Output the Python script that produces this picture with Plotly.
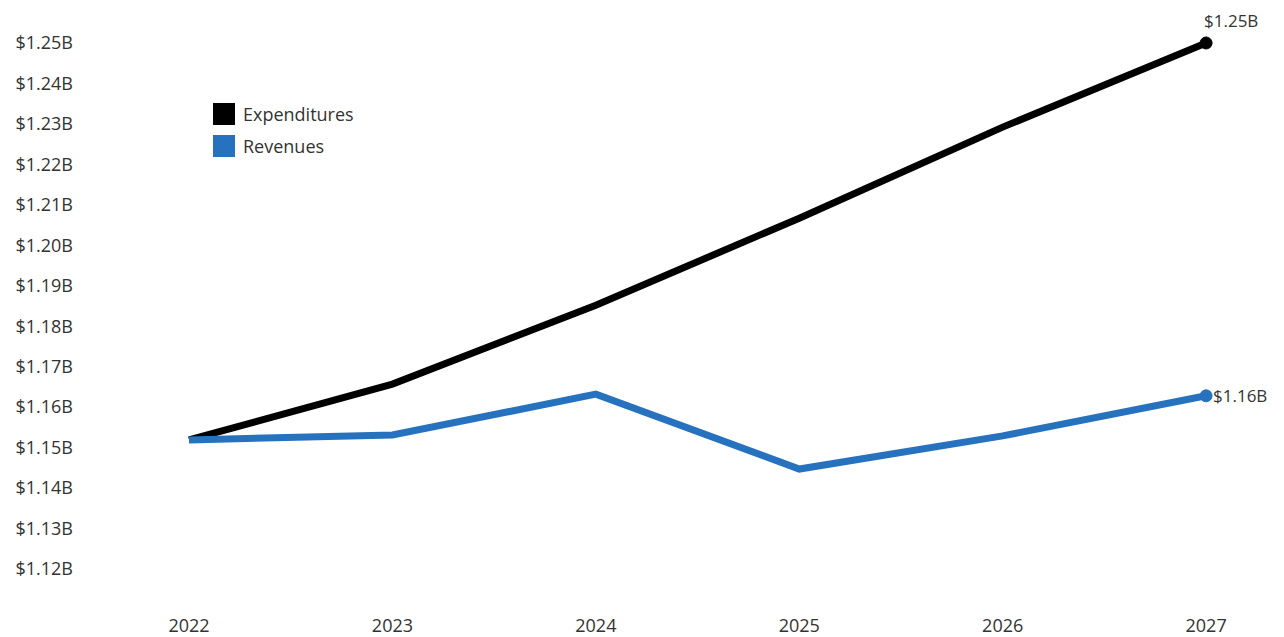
import plotly.graph_objects as go

years = [2022, 2023, 2024, 2025, 2026, 2027]
expenditures = [1.1519, 1.1657, 1.1852, 1.2067, 1.2292, 1.2500]
revenues = [1.1519, 1.1531, 1.1632, 1.1447, 1.1529, 1.1628]
series_names = ["Expenditures", "Revenues"]
y_ticks = [1.12, 1.13, 1.14, 1.15, 1.16, 1.17, 1.18, 1.19, 1.20, 1.21, 1.22, 1.23, 1.24, 1.25]
y_tick_labels = ["$%.2fB" % v for v in y_ticks]

BLACK = "#000000"
BLUE = "#2672BE"
TXT = "#333333"
FONT = "Open Sans"

W, H = 1284, 637
ML, MR, MT, MB = 80, 0, 20, 24
PW, PH = W - ML - MR, H - MT - MB

fig = go.Figure()
for vals, color in [(expenditures, BLACK), (revenues, BLUE)]:
    fig.add_trace(go.Scatter(
        x=years, y=vals, mode="lines+markers",
        line=dict(color=color, width=7),
        marker=dict(size=[0] * (len(vals) - 1) + [12], color=color,
                    line=dict(width=1, color=color), opacity=1),
        showlegend=False, hoverinfo="skip",
    ))

# end labels
fig.add_annotation(x=years[-1], y=expenditures[-1], text="$%.2fB" % expenditures[-1],
                   xanchor="left", yanchor="bottom", showarrow=False, xshift=-4, yshift=9,
                   font=dict(family=FONT, size=17, color=TXT))
fig.add_annotation(x=years[-1], y=revenues[-1], text="$%.2fB" % revenues[-1],
                   xanchor="left", yanchor="middle", showarrow=False, xshift=5,
                   font=dict(family=FONT, size=17, color=TXT))

# legend drawn as swatches + labels (page px -> paper coords)
def px(xp):
    return (xp - ML) / PW
def py(yp):
    return 1 - (yp - MT) / PH

for i, (name, color) in enumerate(zip(series_names, [BLACK, BLUE])):
    top = 103 + 32 * i
    fig.add_shape(type="rect", xref="paper", yref="paper",
                  x0=px(213), x1=px(235), y0=py(top + 22), y1=py(top),
                  fillcolor=color, line=dict(width=0))
    fig.add_annotation(xref="paper", yref="paper", x=px(241), y=py(top + 11),
                       text=name, xanchor="left", yanchor="middle", showarrow=False,
                       font=dict(family=FONT, size=18, color=TXT))

fig.update_layout(
    width=W, height=H,
    margin=dict(l=ML, r=MR, t=MT, b=MB, autoexpand=False),
    plot_bgcolor="white", paper_bgcolor="white",
    font=dict(family=FONT, size=18, color=TXT),
    showlegend=False,
    xaxis=dict(range=[2021.464, 2027.383], tickvals=years, ticktext=[str(y) for y in years],
               showgrid=False, zeroline=False, showline=False, ticks="",
               tickfont=dict(family=FONT, size=18, color=TXT)),
    yaxis=dict(range=[1.10912, 1.25568], tickvals=y_ticks, ticktext=y_tick_labels,
               showgrid=False, zeroline=False, showline=False, ticks="",
               ticklabelstandoff=6,
               tickfont=dict(family=FONT, size=18, color=TXT)),
)

fig.write_html(
    "out.html",
    config={"displayModeBar": False},
    post_script="document.body.style.margin='0';document.body.style.overflow='hidden';",
)
